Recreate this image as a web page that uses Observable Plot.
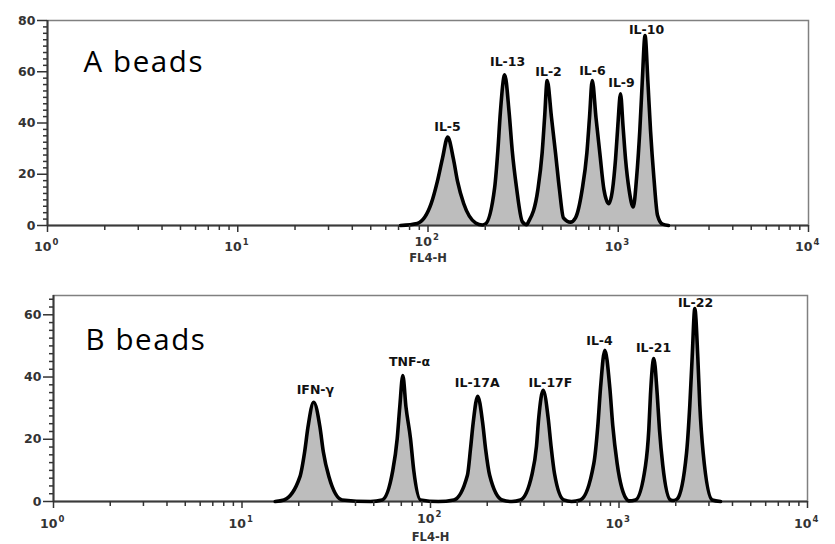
<!DOCTYPE html>
<html><head><meta charset="utf-8">
<script src="https://cdn.jsdelivr.net/npm/d3@7"></script>
<script src="https://cdn.jsdelivr.net/npm/@observablehq/plot@0.6"></script>
<style>
body{margin:0;background:#fff;}
#chart{width:835px;height:544px;overflow:hidden;}
#chart svg{display:block;}
</style>
</head><body><div id="chart"></div>
<script>
// ---- Panel A (A beads): FL4-H value vs count ----
const xA = [71.7, 87.8, 104, 112, 119, 127, 136, 143, 154, 178, 193, 200, 224, 233, 240, 253, 267, 277, 292, 313, 330, 338, 378, 398, 410, 423, 446, 468, 491, 515, 561, 596, 646, 684, 706, 730, 764, 800, 841, 892, 933, 968, 995, 1028, 1059, 1092, 1140, 1199, 1248, 1298, 1336, 1383, 1433, 1478, 1540, 1608, 1709, 1836];
const yA = [0, 0.8, 8.6, 17.2, 26, 34.5, 26, 17.2, 8.6, 1, 0.2, 0.5, 14.7, 29.4, 44, 58.8, 44, 29.4, 14.7, 1.5, 0.3, 1.5, 14, 28.3, 42, 56.6, 42, 28.3, 14, 3, 1.3, 3, 14, 28.3, 42, 56.6, 42, 28.3, 14, 8.5, 14, 26, 39, 51.4, 39, 26, 14, 7.2, 18.5, 37, 55.5, 74.1, 55.5, 37, 18.5, 4, 0.5, 0];
const labelsA = ["IL-5", "IL-13", "IL-2", "IL-6", "IL-9", "IL-10"];
const labelXA = [126.6, 262, 430, 732, 1040, 1408];
const labelYA = [36.8, 62.4, 58.5, 58.9, 53.9, 74.9];

// ---- Panel B (B beads) ----
const xB = [15, 16.7, 20.3, 21.5, 22.4, 24.0, 25.9, 27.0, 28.9, 34.0, 48.1, 55.4, 63.1, 66.6, 68.7, 71.3, 74.1, 78.3, 81.5, 88.5, 110, 133, 157, 163, 168.5, 178, 189, 196, 206, 240, 270, 300, 346, 365, 375, 396, 421, 436, 455, 509, 560, 625, 735, 772, 798, 841, 894, 927, 978, 1106, 1127, 1223, 1382, 1439, 1469, 1530, 1595, 1640, 1708, 1876, 1953, 2036, 2281, 2375, 2445, 2524, 2618, 2683, 2797, 3122, 3456];
const yB = [0, 0.5, 8, 16, 24, 31.9, 24, 16, 8, 0.5, 0, 0.5, 10, 20.25, 30.4, 40.5, 30.4, 20.25, 10, 0.5, 0, 0.5, 8.45, 16.9, 25.4, 33.8, 25.4, 16.9, 8.45, 0.5, 0, 0.5, 8.9, 17.8, 26.8, 35.7, 26.8, 17.8, 8.9, 0.5, 0, 0.5, 12.15, 24.3, 36.5, 48.6, 36.5, 24.3, 12.15, 0.5, 0.2, 0.5, 11.5, 23, 34.4, 45.9, 34.4, 23, 11.5, 0.5, 0.3, 0.8, 15.5, 31, 46.5, 62, 46.5, 31, 15.5, 0.5, 0];
const labelsB = ["IFN-γ", "TNF-α", "IL-17A", "IL-17F", "IL-4", "IL-21", "IL-22"];
const labelXB = [24.5, 77.4, 177, 433, 788, 1524, 2546];
const labelYB = [34.7, 43.7, 36.7, 36.7, 50.2, 47.9, 62.4];

// ---- Axes ----
const xMajor = [1, 10, 100, 1000, 10000];
const xExp = ["0", "1", "2", "3", "4"];
const xMinor = [2,3,4,5,6,7,8,9,20,30,40,50,60,70,80,90,200,300,400,500,600,700,800,900,2000,3000,4000,5000,6000,7000,8000,9000];
const yTicksA = [0, 20, 40, 60, 80];
const yTicksB = [0, 20, 40, 60];
const xLabel = "FL4-H";

function panel(o) {
  const data = o.xs.map((x, i) => ({x, y: o.ys[i]}));
  const labs = o.labels.map((t, i) => ({t, x: o.lx[i], y: o.ly[i]}));
  const yMinor = d3.range(0, o.yMax + 0.01, 2.5).filter(v => !o.yTicks.includes(v));
  const tickFont = "DejaVu Sans";
  const lift = d => (d === 100 ? o.raise : 0);
  const svg = Plot.plot({
    width: 835, height: o.height,
    marginLeft: o.ml, marginRight: o.mr, marginTop: o.mt, marginBottom: o.mb,
    x: {type: "log", domain: [1, 10000]},
    y: {domain: [0, o.yMax]},
    style: {background: "#fff", overflow: "visible"},
    marks: [
      Plot.frame({stroke: "#808080", strokeWidth: 1.5}),
      Plot.areaY(data, {x: "x", y: "y", fill: "#bdbdbd", curve: "monotone-x"}),
      Plot.ruleY([0], {stroke: "#3a3a3a", strokeWidth: 2}),
      Plot.ruleX([1], {stroke: "#3a3a3a", strokeWidth: 2}),
      Plot.line(data, {x: "x", y: "y", stroke: "#000", strokeWidth: 3.6, curve: "monotone-x", strokeLinejoin: "round"}),
      Plot.axisX(xMajor, {tickSize: 7, tickFormat: () => "", label: null, color: "#333", strokeWidth: 1.5}),
      Plot.axisX(xMinor, {tickSize: 5, tickFormat: () => "", label: null, color: "#333", strokeWidth: 1.5}),
      Plot.axisY(o.yTicks, {tickSize: 10, tickPadding: 2, label: null, color: "#333", strokeWidth: 1.5, fontSize: 12.5, fontWeight: "bold", fontFamily: tickFont, tickFormat: d => d}),
      Plot.axisY(yMinor, {tickSize: 4, tickFormat: () => "", label: null, color: "#333", strokeWidth: 1.5}),
      ...xMajor.map((v, i) => Plot.text([v], {x: d => d, frameAnchor: "bottom", dy: o.tdy - lift(v), dx: 4, text: () => "10", textAnchor: "end", lineAnchor: "bottom", fontSize: 12.5, fontWeight: "bold", fontFamily: tickFont, fill: "#333"})),
      ...xMajor.map((v, i) => Plot.text([v], {x: d => d, frameAnchor: "bottom", dy: o.tdy - 6 - lift(v), dx: 5, text: () => xExp[i], textAnchor: "start", lineAnchor: "bottom", fontSize: 8.5, fontWeight: "bold", fontFamily: tickFont, fill: "#333"})),
      Plot.text([xLabel], {x: 100, frameAnchor: "bottom", dy: o.fdy, text: d => d, textAnchor: "middle", lineAnchor: "bottom", fontSize: 11.5, fontWeight: "bold", fontFamily: tickFont, fill: "#333"}),
      Plot.text(labs, {x: "x", y: "y", text: "t", textAnchor: "middle", lineAnchor: "bottom", fontSize: 12.5, fontWeight: "bold", fontFamily: tickFont, fill: "#111"}),
      Plot.text([o.title], {frameAnchor: "top-left", dx: o.tdx, dy: o.tdyTitle, text: d => d, textAnchor: "start", lineAnchor: "bottom", fontSize: 29.5, fontFamily: "Open Sans", fill: "#000"})
    ]
  });
  d3.select(svg).selectAll("text").filter(function() { return this.textContent === o.title; }).attr("letter-spacing", "1.6");
  return svg;
}

const chart = document.getElementById("chart");
chart.appendChild(panel({xs: xA, ys: yA, labels: labelsA, lx: labelXA, ly: labelYA, yMax: 80, yTicks: yTicksA,
  height: 265, ml: 47, mr: 27, mt: 20, mb: 40, tdy: 25, raise: 5, fdy: 36, title: "A beads", tdx: 36, tdyTitle: 51}));
chart.appendChild(panel({xs: xB, ys: yB, labels: labelsB, lx: labelXB, ly: labelYB, yMax: 66.2, yTicks: yTicksB,
  height: 279, ml: 53, mr: 28, mt: 30, mb: 43, tdy: 26, raise: 5, fdy: 39, title: "B beads", tdx: 32, tdyTitle: 54}));
</script>
</body></html>
